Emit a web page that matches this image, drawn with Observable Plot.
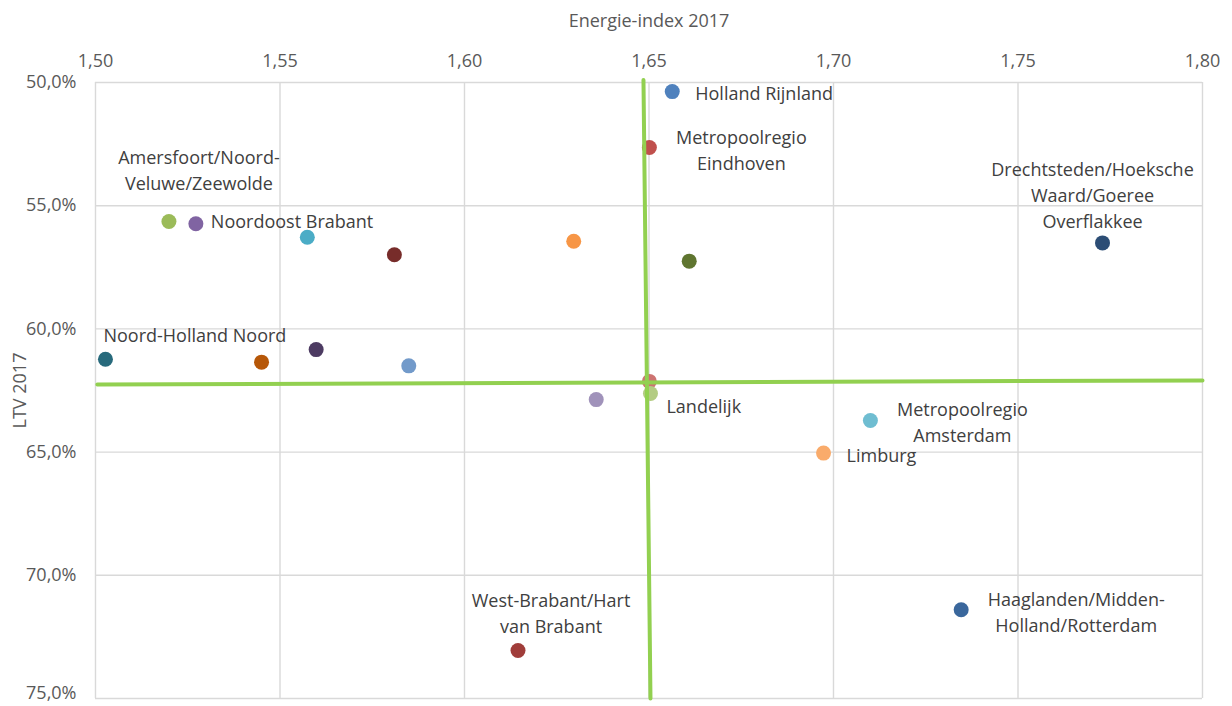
<!DOCTYPE html>
<html>
<head>
<meta charset="utf-8">
<script src="https://cdn.jsdelivr.net/npm/d3@7"></script>
<script src="https://cdn.jsdelivr.net/npm/@observablehq/plot@0.6"></script>
<style>
  html, body { margin: 0; padding: 0; background: #fff; }
  #chart { width: 1232px; height: 706px; }
</style>
</head>
<body>
<div id="chart"></div>
<script>
// ---- data ----
const regions = [
  "Holland Rijnland",
  "Metropoolregio\nEindhoven",
  "Amersfoort/Noord-\nVeluwe/Zeewolde",
  "Noordoost Brabant",
  "",
  "",
  "",
  "",
  "Drechtsteden/Hoeksche\nWaard/Goeree\nOverflakkee",
  "Noord-Holland Noord",
  "",
  "",
  "",
  "",
  "",
  "Landelijk",
  "Metropoolregio\nAmsterdam",
  "Limburg",
  "Haaglanden/Midden-\nHolland/Rotterdam",
  "West-Brabant/Hart\nvan Brabant"
];
const energieIndex = [1.6563, 1.6501, 1.5199, 1.5272, 1.5574, 1.5810, 1.6296, 1.6609, 1.7729, 1.5027,
                      1.5450, 1.5598, 1.5849, 1.6357, 1.6501, 1.6504, 1.7100, 1.6973, 1.7346, 1.6145];
const ltv = [50.37, 52.64, 55.64, 55.73, 56.28, 56.99, 56.44, 57.25, 56.51, 61.23,
             61.35, 60.84, 61.50, 62.87, 62.13, 62.62, 63.72, 65.04, 71.40, 73.05];
const xTicks = [1.50, 1.55, 1.60, 1.65, 1.70, 1.75, 1.80];
const yTicks = [50, 55, 60, 65, 70, 75];
// reference (average) lines
const refVerticalX = [1.6485, 1.6504];
const refVerticalY = [49.9, 75];
const refHorizontalX = [1.5005, 1.80];
const refHorizontalY = [62.26, 62.09];

// ---- styles ----
const palette = ["#4F81BD", "#C0504D", "#9BBB59", "#8064A2", "#4BACC6", "#772C2A", "#F79646", "#5F7530",
                 "#2C4D75", "#276A7C", "#B65708", "#4D3B62", "#729ACA", "#A092BA", "#CD7371", "#B3CC82",
                 "#6FBDD1", "#F9AB6B", "#3A679C", "#A03D3A"];
// label placement relative to each point: [textAnchor, dx, dy]
const labelLayout = {
  0: ["start", 23, 0],
  1: ["middle", 92, 1],
  2: ["middle", 30, -53],
  3: ["start", 15, -4],
  8: ["middle", -10, -49],
  9: ["start", -2, -26],
  15: ["start", 16, 11],
  16: ["middle", 92, 0],
  17: ["start", 23, 1],
  18: ["middle", 115, 1],
  19: ["middle", 33, -39]
};

const points = regions.map((r, i) => ({label: r, x: energieIndex[i], y: ltv[i], color: palette[i]}));
const vLine = refVerticalX.map((x, i) => ({x, y: refVerticalY[i]}));
const hLine = refHorizontalX.map((x, i) => ({x, y: refHorizontalY[i]}));

const fmtX = d => d.toFixed(2).replace(".", ",");
const fmtY = d => d.toFixed(1).replace(".", ",") + "%";

const labelMarks = Object.entries(labelLayout).map(([i, [anchor, dx, dy]]) =>
  Plot.text([points[+i]], {
    x: "x", y: "y", text: "label",
    textAnchor: anchor, lineAnchor: "middle", lineHeight: 1.45,
    dx, dy, fill: "#404040", fontSize: 18
  })
);

const lastY = yTicks[yTicks.length - 1];

const chart = Plot.plot({
  width: 1232,
  height: 706,
  marginLeft: 95,
  marginRight: 30,
  marginTop: 82,
  marginBottom: 8,
  style: {fontFamily: "'Open Sans', sans-serif", fontSize: "18px", color: "#595959", background: "#fff"},
  x: {domain: [1.50, 1.80]},
  y: {domain: [50, 75], reverse: true},
  marks: [
    Plot.gridX(xTicks, {stroke: "#d9d9d9", strokeOpacity: 1, strokeWidth: 1.4}),
    Plot.gridY(yTicks, {stroke: "#d9d9d9", strokeOpacity: 1, strokeWidth: 1.4}),
    Plot.axisX(xTicks, {anchor: "top", tickSize: 0, tickPadding: 16, tickFormat: fmtX, fontSize: 18,
      label: "Energie-index 2017", labelAnchor: "center", labelOffset: 68, labelArrow: "none", fill: "#595959"}),
    Plot.axisY(yTicks.filter(t => t !== lastY), {anchor: "left", tickSize: 0, tickPadding: 19, tickFormat: fmtY, fontSize: 18,
      label: "LTV 2017", labelAnchor: "center", labelOffset: 82, labelArrow: "none", fill: "#595959"}),
    Plot.axisY([lastY], {anchor: "left", tickSize: 0, tickPadding: 19, tickFormat: fmtY, fontSize: 18,
      dy: -5, label: null, fill: "#595959"}),
    Plot.dot(points, {x: "x", y: "y", r: 7.5, fill: "color", stroke: "none"}),
    Plot.line(vLine, {x: "x", y: "y", stroke: "#92D050", strokeWidth: 4}),
    Plot.line(hLine, {x: "x", y: "y", stroke: "#92D050", strokeWidth: 4}),
    ...labelMarks
  ]
});
document.getElementById("chart").appendChild(chart);
</script>
</body>
</html>
